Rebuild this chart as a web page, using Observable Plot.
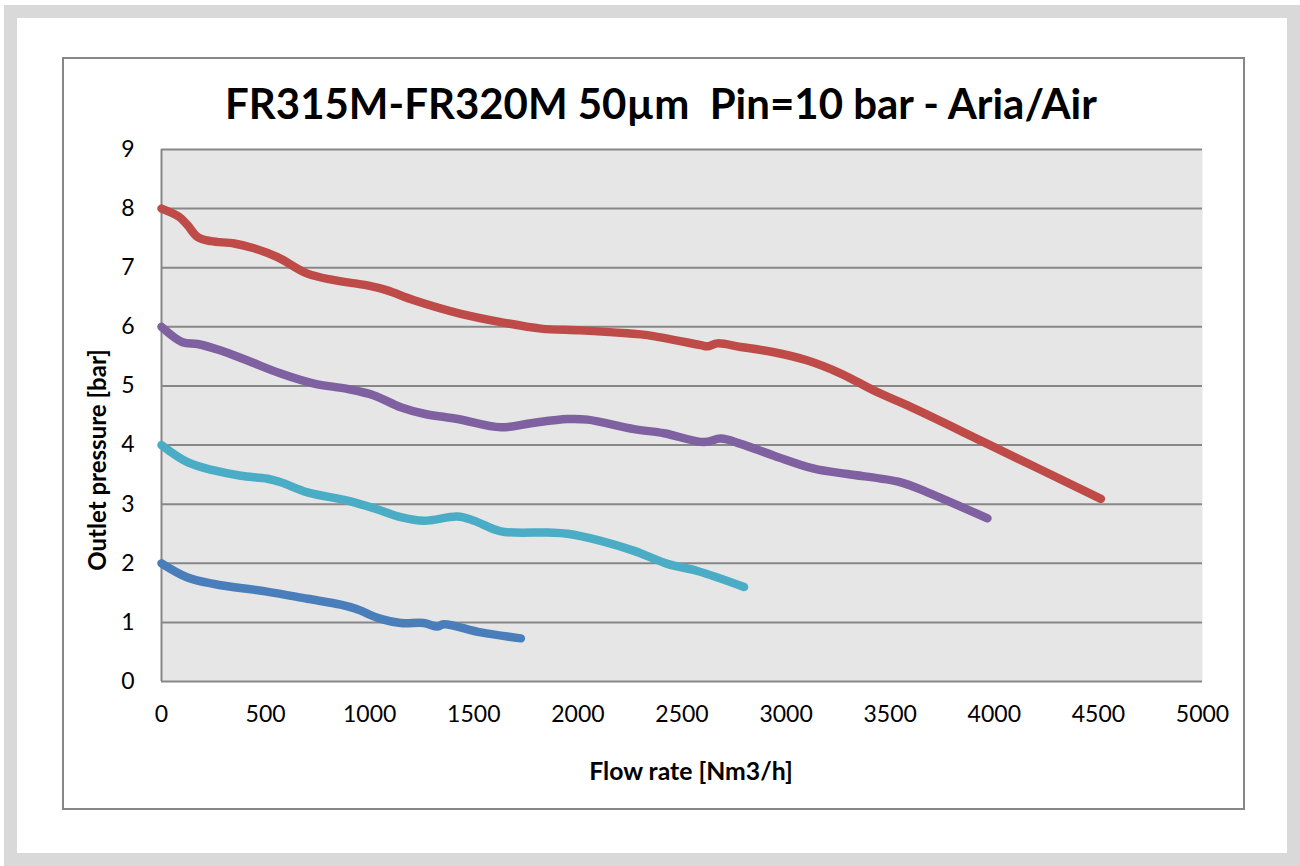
<!DOCTYPE html>
<html>
<head>
<meta charset="utf-8">
<script src="https://cdn.jsdelivr.net/npm/d3@7"></script>
<script src="https://cdn.jsdelivr.net/npm/@observablehq/plot@0.6"></script>
<style>
  html, body { margin: 0; padding: 0; background: #fff; }
  #wrap { position: relative; width: 1300px; height: 866px; overflow: hidden; font-family: Lato, "Open Sans", sans-serif; }
  #outer { position: absolute; left: 4px; top: 5px; width: 1296px; height: 861px; box-sizing: border-box; border: 13px solid #d9d9d9; }
  #box { position: absolute; left: 62px; top: 57px; width: 1183px; height: 753px; box-sizing: border-box; border: 2px solid #878787; }
  #chart { position: absolute; left: 0; top: 0; }
  .lbl { position: absolute; white-space: nowrap; line-height: 1; font-weight: 700; color: #000; transform: translate(-50%, -50%); }
  #ylab { transform: translate(-50%, -50%) rotate(-90deg); }
</style>
</head>
<body>
<div id="wrap">
  <div id="outer"></div>
  <div id="box"></div>
  <div id="chart"></div>
  <div id="title" class="lbl"></div>
  <div id="xlab" class="lbl"></div>
  <div id="ylab" class="lbl"></div>
</div>
<script>
// ---- data ----
const titleText = "FR315M-FR320M 50µm\u00a0\u00a0Pin=10 bar - Aria/Air";
const xLabel = "Flow rate [Nm3/h]";
const yLabel = "Outlet pressure [bar]";
const xTicks = [0, 500, 1000, 1500, 2000, 2500, 3000, 3500, 4000, 4500, 5000];
const yTicks = [0, 1, 2, 3, 4, 5, 6, 7, 8, 9];

const seriesNames = ["2 bar", "4 bar", "6 bar", "8 bar"];
const seriesColors = ["#4a7ebb", "#4bacc6", "#7f60a0", "#be4b48"];

const flow2 = [0, 125, 253, 506, 701, 861, 933, 1053, 1149, 1259, 1326, 1356, 1534, 1726];
const pres2 = [2.0, 1.76, 1.65, 1.52, 1.40, 1.30, 1.23, 1.06, 0.99, 0.99, 0.93, 0.97, 0.83, 0.73];

const flow4 = [0, 125, 253, 381, 509, 573, 701, 893, 1021, 1149, 1261, 1422, 1501, 1630, 1854, 1950, 2110, 2270, 2430, 2574, 2798];
const pres4 = [4.0, 3.71, 3.57, 3.48, 3.43, 3.37, 3.20, 3.06, 2.93, 2.78, 2.72, 2.79, 2.72, 2.54, 2.52, 2.50, 2.38, 2.21, 1.99, 1.87, 1.60];

const flow6 = [0, 101, 173, 285, 413, 573, 733, 893, 1021, 1149, 1261, 1422, 1630, 1774, 1950, 2046, 2270, 2414, 2606, 2686, 2782, 2942, 3134, 3295, 3551, 3679, 3967];
const pres6 = [6.0, 5.74, 5.71, 5.60, 5.43, 5.21, 5.04, 4.95, 4.84, 4.64, 4.53, 4.44, 4.30, 4.37, 4.44, 4.43, 4.27, 4.20, 4.05, 4.11, 4.02, 3.82, 3.60, 3.51, 3.37, 3.20, 2.76];

const flow8 = [0, 85, 125, 173, 237, 349, 444, 557, 701, 829, 989, 1080, 1213, 1438, 1630, 1822, 2014, 2238, 2334, 2590, 2622, 2670, 2782, 2942, 3103, 3263, 3423, 3583, 3967, 4512];
const pres8 = [8.0, 7.86, 7.72, 7.52, 7.45, 7.41, 7.33, 7.18, 6.90, 6.79, 6.70, 6.62, 6.45, 6.22, 6.08, 5.97, 5.94, 5.89, 5.86, 5.69, 5.67, 5.72, 5.66, 5.57, 5.43, 5.21, 4.92, 4.67, 4.02, 3.09];

const flows = [flow2, flow4, flow6, flow8];
const pressures = [pres2, pres4, pres6, pres8];

const rows = [];
seriesNames.forEach((s, i) => flows[i].forEach((f, j) => rows.push({series: s, flow: f, pressure: pressures[i][j]})));

const gridColor = "#878787";

const chart = Plot.plot({
  width: 1300,
  height: 866,
  marginLeft: 161,
  marginRight: 98,
  marginTop: 149,
  marginBottom: 185,
  style: { fontFamily: "Lato, 'Open Sans', sans-serif", fontSize: "23px", color: "#000", background: "transparent", overflow: "visible" },
  x: { domain: [0, 5000] },
  y: { domain: [0, 9] },
  color: { domain: seriesNames, range: seriesColors },
  marks: [
    Plot.frame({ fill: "#e6e6e6", stroke: null }),
    Plot.gridY(yTicks.filter(d => d > 0), { stroke: gridColor, strokeOpacity: 1, strokeWidth: 2 }),
    Plot.ruleY([0], { stroke: gridColor, strokeWidth: 2 }),
    Plot.ruleX([0], { stroke: gridColor, strokeWidth: 2 }),
    Plot.axisX(xTicks, { tickSize: 0, tickPadding: 24, label: null, fontSize: 23, tickFormat: d => String(d) }),
    Plot.axisY(yTicks, { tickSize: 0, tickPadding: 27, label: null, fontSize: 23, tickFormat: d => String(d) }),
    Plot.line(rows, { x: "flow", y: "pressure", z: "series", stroke: "series", curve: "catmull-rom", strokeWidth: 8.5, strokeLinecap: "round", strokeLinejoin: "round" })
  ]
});
document.getElementById("chart").appendChild(chart);

function place(id, text, size, cx, cy, targetWidth) {
  const el = document.getElementById(id);
  el.textContent = text;
  el.style.fontSize = size + "px";
  el.style.left = cx + "px";
  el.style.top = cy + "px";
  if (targetWidth) {
    const w = el.offsetWidth;
    if (w > 0) el.style.fontSize = (size * targetWidth / w) + "px";
  }
}
place("title", titleText, 44, 661, 103, 872);
place("xlab", xLabel, 22, 691, 771, 204);
place("ylab", yLabel, 22, 97, 460, 222);
</script>
</body>
</html>
